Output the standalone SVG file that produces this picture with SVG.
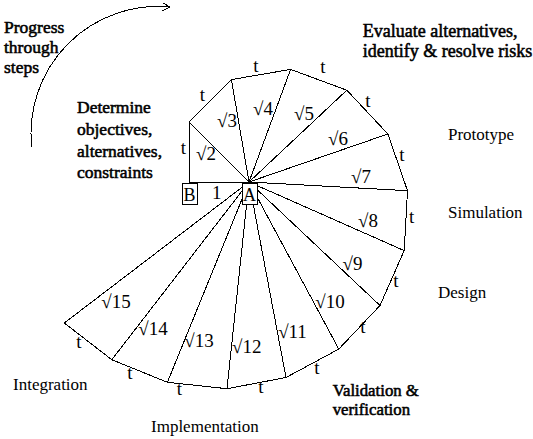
<svg xmlns="http://www.w3.org/2000/svg" width="533" height="439" viewBox="0 0 533 439">
<rect width="533" height="439" fill="#fff"/>

<g id="connectors" fill="none" stroke="#000" stroke-width="1" shape-rendering="crispEdges">
  <line x1="249" y1="182" x2="189" y2="182"/>
  <line x1="249" y1="182" x2="189" y2="122"/>
  <line x1="249" y1="182" x2="231.4" y2="79.6"/>
  <line x1="249" y1="182" x2="290.6" y2="69.4"/>
  <line x1="249" y1="182" x2="346.8" y2="90.2"/>
  <line x1="249" y1="182" x2="387.9" y2="134"/>
  <line x1="249" y1="182" x2="407.5" y2="190.7"/>
  <line x1="249" y1="182" x2="404.2" y2="250.6"/>
  <line x1="249" y1="182" x2="380" y2="305.5"/>
  <line x1="249" y1="182" x2="338.8" y2="349.1"/>
  <line x1="249" y1="182" x2="286" y2="377.5"/>
  <line x1="249" y1="182" x2="227" y2="388.7"/>
  <line x1="249" y1="182" x2="167.4" y2="382.3"/>
  <line x1="249" y1="182" x2="111.8" y2="359.7"/>
  <line x1="249" y1="182" x2="64.3" y2="323"/>
  <polyline points="189,182 189,122 231.4,79.6 290.6,69.4 346.8,90.2 387.9,134 407.5,190.7 404.2,250.6 380,305.5 338.8,349.1 286,377.5 227,388.7 167.4,382.3 111.8,359.7 64.3,323"/>
  <path d="M31.7,146.7 A127,127 0 0 1 170,7"/>
  <polyline points="163,3 170,7 162,11"/>
</g>

<g id="node-B">
  <rect x="182" y="183" width="15" height="21" fill="#fff" stroke="#000" shape-rendering="crispEdges"/>
  <text font-family="Liberation Serif" font-size="18" text-anchor="middle" x="189.5" y="200.5">B</text>
</g>
<g id="node-A">
  <rect x="242" y="183" width="15" height="21" fill="#fff" stroke="#000" shape-rendering="crispEdges"/>
  <text font-family="Liberation Serif" font-size="18" text-anchor="middle" x="249.5" y="200.5">A</text>
</g>

<g id="edge-labels" font-size="19" text-anchor="middle">
  <text font-family="Liberation Serif" x="216.7" y="198.5">1</text>
  <text font-family="Liberation Serif" x="206" y="160">√2</text>
  <text font-family="Liberation Serif" x="227" y="127">√3</text>
  <text font-family="Liberation Serif" x="263" y="115">√4</text>
  <text font-family="Liberation Serif" x="304" y="120">√5</text>
  <text font-family="Liberation Serif" x="338" y="145">√6</text>
  <text font-family="Liberation Serif" x="361" y="183">√7</text>
  <text font-family="Liberation Serif" x="368" y="227">√8</text>
  <text font-family="Liberation Serif" x="352.5" y="270">√9</text>
  <text font-family="Liberation Serif" x="330" y="308">√10</text>
  <text font-family="Liberation Serif" x="292.5" y="338">√11</text>
  <text font-family="Liberation Serif" x="246.7" y="353">√12</text>
  <text font-family="Liberation Serif" x="199" y="347">√13</text>
  <text font-family="Liberation Serif" x="153" y="335">√14</text>
  <text font-family="Liberation Serif" x="116" y="308">√15</text>

  <text font-family="Liberation Serif" x="183.3" y="153.5">t</text>
  <text font-family="Liberation Serif" x="202.3" y="100.5">t</text>
  <text font-family="Liberation Serif" x="256" y="71.5">t</text>
  <text font-family="Liberation Serif" x="323" y="73">t</text>
  <text font-family="Liberation Serif" x="368" y="106.5">t</text>
  <text font-family="Liberation Serif" x="402" y="161">t</text>
  <text font-family="Liberation Serif" x="411.7" y="222.7">t</text>
  <text font-family="Liberation Serif" x="396" y="286.7">t</text>
  <text font-family="Liberation Serif" x="363" y="333">t</text>
  <text font-family="Liberation Serif" x="317" y="374">t</text>
  <text font-family="Liberation Serif" x="261" y="393">t</text>
  <text font-family="Liberation Serif" x="179.3" y="395">t</text>
  <text font-family="Liberation Serif" x="130" y="379">t</text>
  <text font-family="Liberation Serif" x="79" y="347.7">t</text>
</g>

<g id="captions-heavy" font-size="17.5" stroke="#000" stroke-width="0.55" fill="#000">
  <text font-family="Liberation Serif" x="4" y="33.3">Progress</text>
  <text font-family="Liberation Serif" x="4" y="53.3">through</text>
  <text font-family="Liberation Serif" x="4" y="73.3">steps</text>
  <text font-family="Liberation Serif" x="77" y="113.3">Determine</text>
  <text font-family="Liberation Serif" x="77" y="135">objectives,</text>
  <text font-family="Liberation Serif" x="77" y="156.7">alternatives,</text>
  <text font-family="Liberation Serif" x="77" y="178.3">constraints</text>
  <text font-family="Liberation Serif" x="362.7" y="36.7" font-size="18">Evaluate alternatives,</text>
  <text font-family="Liberation Serif" x="362.7" y="56.7" font-size="18">identify &amp; resolve risks</text>
  <text font-family="Liberation Serif" x="332.7" y="396" font-size="16.8">Validation &amp;</text>
  <text font-family="Liberation Serif" x="332.7" y="415" font-size="16.8">verification</text>
</g>
<g id="captions-regular" font-size="17">
  <text font-family="Liberation Serif" x="448" y="140">Prototype</text>
  <text font-family="Liberation Serif" x="448" y="218">Simulation</text>
  <text font-family="Liberation Serif" x="438" y="298">Design</text>
  <text font-family="Liberation Serif" x="13" y="390">Integration</text>
  <text font-family="Liberation Serif" x="151" y="431.5">Implementation</text>
</g>
</svg>
